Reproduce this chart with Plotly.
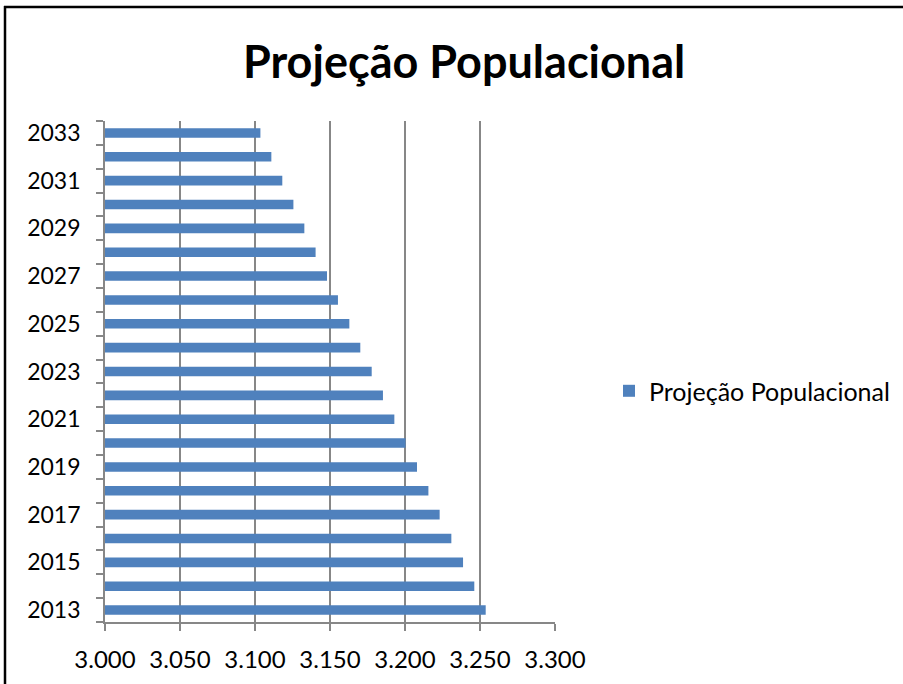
import plotly.graph_objects as go

years = [2013, 2014, 2015, 2016, 2017, 2018, 2019, 2020, 2021, 2022, 2023,
         2024, 2025, 2026, 2027, 2028, 2029, 2030, 2031, 2032, 2033]
populacao = [3253.8, 3246.2, 3238.7, 3230.9, 3223.1, 3215.6, 3208.0, 3200.4,
             3192.9, 3185.3, 3177.8, 3170.2, 3162.9, 3155.3, 3148.0, 3140.4,
             3132.9, 3125.6, 3118.2, 3110.9, 3103.6]
label_years = years[::2]
x_ticks = [3000, 3050, 3100, 3150, 3200, 3250, 3300]
series_name = "Projeção Populacional"
title_text = "Projeção Populacional"

font = "Lato, 'Open Sans', sans-serif"
grid = "#878787"

fig = go.Figure()
fig.add_trace(go.Bar(
    x=populacao, y=years, orientation="h", name=series_name,
    width=0.4, marker=dict(color="#4F81BD", line=dict(width=0)),
))

boundaries = [y - 0.5 for y in years] + [years[-1] + 0.5]

fig.update_layout(
    width=903, height=684,
    margin=dict(l=105, r=348, t=121, b=62, autoexpand=False),
    paper_bgcolor="white", plot_bgcolor="white",
    separators=",.",
    font=dict(family=font, size=23, color="black"),
    title=dict(text="<b>" + title_text + "</b>", x=0.514, xanchor="center",
               y=1 - 62 / 684, yanchor="middle", yref="container",
               font=dict(family=font, size=45, color="black")),
    showlegend=True,
    legend=dict(x=(609 - 105) / 450, y=0.461, xanchor="left", yanchor="middle",
                font=dict(family=font, size=25, color="black"),
                bgcolor="rgba(0,0,0,0)"),
    xaxis=dict(range=[x_ticks[0], x_ticks[-1]], tickvals=x_ticks,
               tickformat=",.0f", showgrid=True, gridcolor=grid, gridwidth=1.8,
               showline=True, linecolor=grid, linewidth=1.8,
               ticks="outside", ticklen=7, tickcolor=grid, tickwidth=1.8,
               zeroline=False, ticklabelstandoff=8,
               tickfont=dict(family=font, size=24, color="black")),
    yaxis=dict(range=[boundaries[0], boundaries[-1]], tickvals=label_years,
               ticktext=[str(y) for y in label_years],
               showgrid=False, showline=True, linecolor=grid, linewidth=1.8,
               ticks="", zeroline=False, ticklabelstandoff=18,
               minor=dict(tickvals=boundaries, ticks="outside", ticklen=7,
                          tickcolor=grid, tickwidth=1.8, showgrid=False),
               tickfont=dict(family=font, size=23, color="black")),
)

# outer chart border (left and top edges visible in the frame)
px_x = lambda p: (p - 105) / 450
px_y = lambda p: (622 - p) / 501
fig.add_shape(type="line", xref="paper", yref="paper",
              x0=px_x(5), x1=px_x(5), y0=px_y(684), y1=px_y(6),
              line=dict(color="black", width=2.5), layer="above")
fig.add_shape(type="line", xref="paper", yref="paper",
              x0=px_x(4), x1=px_x(903), y0=px_y(7), y1=px_y(7),
              line=dict(color="black", width=2.5), layer="above")

fig.write_html("out.html", config={"displayModeBar": False},
               post_script="document.body.style.margin='0';document.body.style.overflow='hidden';")
